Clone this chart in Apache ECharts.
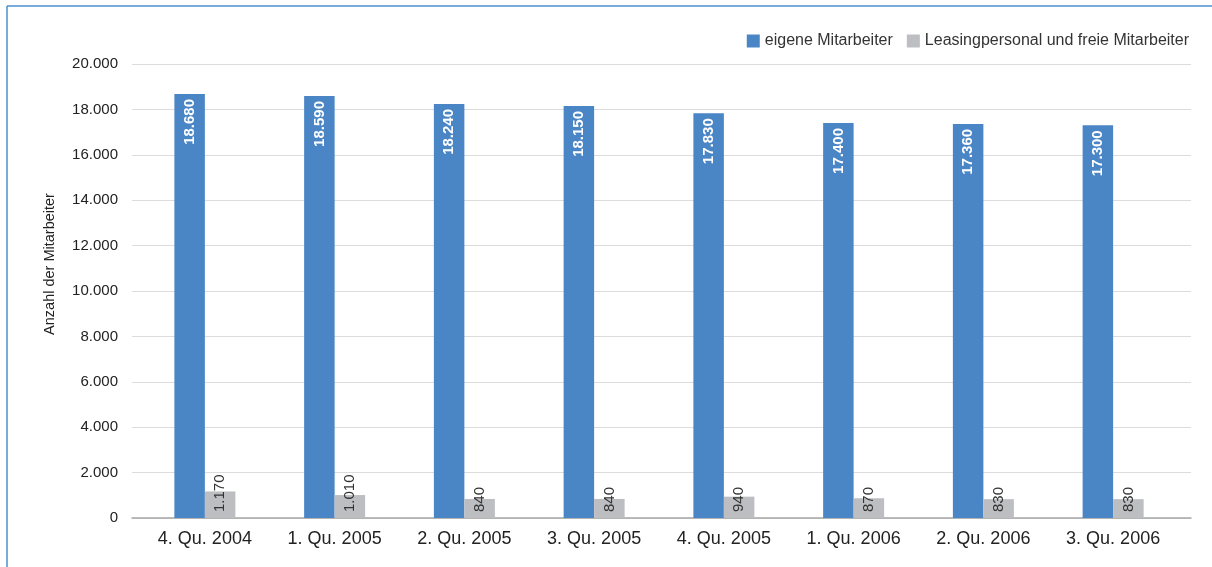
<!DOCTYPE html>
<html>
<head>
<meta charset="utf-8">
<script src="https://cdn.jsdelivr.net/npm/echarts@6/dist/echarts.min.js"></script>
<style>
html,body{margin:0;padding:0;background:#fff;}
#main{width:1212px;height:567px;}
</style>
</head>
<body>
<div id="main"></div>
<script>
var categories = ['4. Qu. 2004','1. Qu. 2005','2. Qu. 2005','3. Qu. 2005','4. Qu. 2005','1. Qu. 2006','2. Qu. 2006','3. Qu. 2006'];
var eigene = [18680, 18590, 18240, 18150, 17830, 17400, 17360, 17300];
var leasing = [1170, 1010, 840, 840, 940, 870, 830, 830];
var seriesNames = ['eigene Mitarbeiter', 'Leasingpersonal und freie Mitarbeiter'];
var yAxisName = 'Anzahl der Mitarbeiter';

function fmt(n){ return String(n).replace(/\B(?=(\d{3})+(?!\d))/g, '.'); }

var FONT = '"Liberation Sans", Arial, Helvetica, sans-serif';
var chart = echarts.init(document.getElementById('main'), null, {renderer:'canvas'});
chart.setOption({
  animation:false,
  backgroundColor:'#ffffff',
  textStyle:{fontFamily:FONT},
  graphic:[
    {type:'line', shape:{x1:7,y1:6,x2:1212,y2:6}, style:{stroke:'#4a8fd0', lineWidth:1.5}},
    {type:'line', shape:{x1:7,y1:6,x2:7,y2:567}, style:{stroke:'#4a8fd0', lineWidth:1.5}},
    {type:'text', x:50, y:264, rotation:Math.PI/2,
     style:{text:yAxisName, fontSize:14.5, fill:'#222', font:'14.5px "Liberation Sans", Arial, sans-serif',
       textAlign:'center', textVerticalAlign:'middle', align:'center', verticalAlign:'middle'}}
  ],
  legend:{
    data:seriesNames,
    right:18, top:28,
    itemWidth:13, itemHeight:13, itemGap:14,
    icon:'rect',
    textStyle:{fontSize:16, color:'#333', fontFamily:FONT}
  },
  grid:[
    {left:132, right:21, top:64, bottom:49},
    {left:140, right:34, top:64, bottom:49}
  ],
  xAxis:[
    {gridIndex:0, type:'value', min:0, max:1, axisLabel:{show:false}, axisTick:{show:false},
     splitLine:{show:false}, axisLine:{show:true, onZero:false, lineStyle:{color:'#a6a6a6', width:1.5}}},
    {gridIndex:1, type:'category', data:categories, axisLine:{show:false}, axisTick:{show:false},
     axisLabel:{fontSize:18, color:'#222', margin:12, fontFamily:FONT}}
  ],
  yAxis:[
    {gridIndex:0, type:'value', min:0, max:20000, interval:2000,
     axisLabel:{formatter:fmt, fontSize:15, color:'#222', margin:14, fontFamily:FONT},
     axisLine:{show:false}, axisTick:{show:false},
     splitLine:{lineStyle:{color:'#dcdcdc', width:1}}},
    {gridIndex:1, type:'value', min:0, max:20000, interval:2000, show:false}
  ],
  series:[
    {name:seriesNames[0], type:'bar', xAxisIndex:1, yAxisIndex:1, data:eigene,
     barWidth:30.5, barGap:'0%',
     itemStyle:{color:'#4a86c6'},
     label:{show:true, position:'insideTop', rotate:90, align:'right', verticalAlign:'middle',
       distance:5, color:'#fff', fontWeight:'bold', fontSize:15, fontFamily:FONT,
       formatter:function(p){return fmt(p.value);}}},
    {name:seriesNames[1], type:'bar', xAxisIndex:1, yAxisIndex:1, data:leasing,
     barWidth:30.5, barGap:'0%',
     itemStyle:{color:'#bdbec1'},
     label:{show:true, position:'insideBottom', rotate:90, align:'left', verticalAlign:'middle',
       distance:6, color:'#333', fontSize:15, fontFamily:FONT,
       formatter:function(p){return fmt(p.value);}}}
  ]
});
</script>
</body>
</html>
